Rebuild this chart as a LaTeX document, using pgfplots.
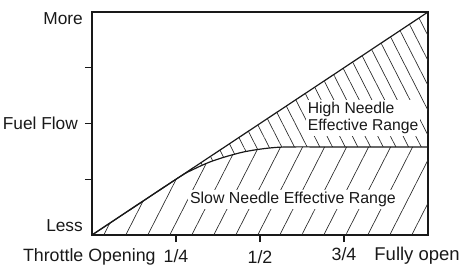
\documentclass[border=0pt]{standalone}
\usepackage{pgfplots}
\pgfplotsset{compat=1.18}
\usepackage{fontspec}
\setmainfont{Liberation Sans}
\usetikzlibrary{patterns.meta}
\begin{document}
\begin{tikzpicture}
\path[use as bounding box] (-92pt,-31pt) rectangle (369pt,235pt);
\begin{axis}[
  at={(0,0)}, anchor=south west,
  scale only axis, width=336pt, height=223pt,
  xmin=0, xmax=1, ymin=0, ymax=1,
  xtick={0.25,0.5,0.75}, ytick={0.25,0.5,0.75},
  xticklabels={}, yticklabels={},
  xtick pos=bottom, ytick pos=left,
  tick align=outside, major tick length=7pt,
  every tick/.style={line width=1.1pt, black!90},
  axis line style={line width=2pt, black!90},
  clip=false,
]
% slow needle region (lower)
\addplot[draw=none, pattern color=black!85,
  pattern={Lines[angle=63,distance=19.6pt,line width=0.65pt]}]
  coordinates {(0,0) (0.25,0.25) (0.3,0.293) (0.35,0.327) (0.4,0.352) (0.45,0.372) (0.5,0.385) (0.55,0.393) (0.6,0.395) (1,0.395) (1,0)} -- cycle;
% high needle region (upper)
\addplot[draw=none, pattern color=black!85,
  pattern={Lines[angle=-63,distance=11.3pt,line width=0.65pt]}]
  coordinates {(0.25,0.25) (1,1) (1,0.395) (0.6,0.395) (0.55,0.393) (0.5,0.385) (0.45,0.372) (0.4,0.352) (0.35,0.327) (0.3,0.293) (0.25,0.25)} -- cycle;
% top line
\addplot[line width=1.2pt, black!90] coordinates {(0,0) (1,1)};
% slow needle curve
\addplot[line width=1.2pt, black!90, smooth] coordinates {(0,0) (0.25,0.25) (0.3,0.293) (0.35,0.327) (0.4,0.352) (0.45,0.372) (0.5,0.385) (0.55,0.393) (0.6,0.395) (0.7,0.395) (1,0.395)};
% region labels
\node[fill=white, inner sep=2pt, align=left, text=black!90,
  font=\fontsize{15.7}{16.7}\selectfont] at (axis cs:0.807,0.525) {High Needle\\Effective Range};
\node[fill=white, inner sep=2pt, text=black!90,
  font=\fontsize{15.9}{16.7}\selectfont] at (axis cs:0.598,0.161) {Slow Needle Effective Range};
% y labels
\node[anchor=north east, inner sep=0pt, xshift=-9pt, text=black!90, font=\fontsize{17.3}{20}\selectfont] at (axis cs:0,1) {More};
\node[anchor=east, inner sep=0pt, xshift=-14pt, text=black!90, font=\fontsize{17.3}{20}\selectfont] at (axis cs:0,0.5) {Fuel Flow};
\node[anchor=south east, inner sep=0pt, xshift=-9pt, yshift=3pt, text=black!90, font=\fontsize{17.3}{20}\selectfont] at (axis cs:0,0) {Less};
% x labels
\node[anchor=base east, inner sep=0pt, yshift=-26pt, text=black!90, font=\fontsize{17.8}{20}\selectfont] at (axis cs:0.19,0) {Throttle Opening};
\node[anchor=base, inner sep=0pt, yshift=-27pt, text=black!90, font=\fontsize{17.8}{20}\selectfont] at (axis cs:0.25,0) {1/4};
\node[anchor=base, inner sep=0pt, yshift=-28pt, text=black!90, font=\fontsize{17.8}{20}\selectfont] at (axis cs:0.5,0) {1/2};
\node[anchor=base, inner sep=0pt, yshift=-25pt, text=black!90, font=\fontsize{17.8}{20}\selectfont] at (axis cs:0.75,0) {3/4};
\node[anchor=base west, inner sep=0pt, yshift=-25pt, text=black!90, font=\fontsize{18.5}{20}\selectfont] at (axis cs:0.84,0) {Fully open};
\end{axis}
\end{tikzpicture}
\end{document}
